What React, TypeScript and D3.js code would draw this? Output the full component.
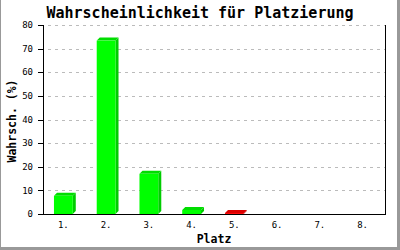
import React from "react";
import * as d3 from "d3";

const categories = ["1.", "2.", "3.", "4.", "5.", "6.", "7.", "8."];
const values = [7.7, 73.4, 17.0, 1.7, 0.4, 0, 0, 0];
const highlighted = ["5."];
const yTicks = [0, 10, 20, 30, 40, 50, 60, 70, 80];
const title = "Wahrscheinlichkeit für Platzierung";
const yTitle = "Wahrsch. (%)";
const xTitle = "Platz";

const W = 400, H = 250;
const left = 43, right = 385, top = 25, bottom = 214;
const mono = "'DejaVu Sans Mono', 'Liberation Mono', monospace";

export default function App() {
  const x = d3.scaleBand<string>().domain(categories).range([left, right]).paddingInner(0).paddingOuter(0);
  const y = d3.scaleLinear().domain([0, 80]).range([bottom, top]);
  const bw = x.bandwidth() * 0.44;
  const depth = 3;
  return (
    <svg width={W} height={H} style={{ position: "absolute", left: 0, top: 0, background: "#fff" }}>
      <rect x={0} y={0} width={W} height={H} fill="#fff" />
      {/* outer frame */}
      <line x1={0.5} y1={0} x2={0.5} y2={H} stroke="#999" strokeWidth={1} />
      <rect x={397} y={0} width={3} height={H} fill="#999" />
      <rect x={0} y={247} width={W} height={3} fill="#999" />
      {/* grid */}
      {yTicks.filter(t => t > 0).map(t => (
        <line key={"g" + t} x1={48} x2={right} y1={Math.round(y(t)) + 0.5} y2={Math.round(y(t)) + 0.5}
          stroke="#bbb" strokeWidth={1} strokeDasharray="3,4" />
      ))}
      {/* bars */}
      {categories.map((c, i) => {
        const v = values[i];
        if (v <= 0) return null;
        const red = highlighted.includes(c);
        const front = red ? "#ff0000" : "#00ff00";
        const dark = red ? "#cc0000" : "#00cc00";
        const topC = red ? "#dd0000" : "#00dd00";
        const x0 = (x(c) as number) + x.bandwidth() / 2 - bw / 2 - 1;
        const x1 = x0 + bw;
        const yt = y(v);
        const yb = y(0);
        return (
          <g key={c}>
            <polygon points={`${x1},${yb} ${x1 + depth},${yb - depth} ${x1 + depth},${yt - depth} ${x1},${yt}`} fill={dark} />
            <polygon points={`${x0},${yt} ${x0 + depth},${yt - depth} ${x1 + depth},${yt - depth} ${x1},${yt}`} fill={topC} />
            <rect x={x0} y={yt} width={bw} height={yb - yt} fill={front} />
          </g>
        );
      })}
      {/* axes */}
      <line x1={left + 0.5} x2={left + 0.5} y1={top} y2={bottom + 1} stroke="#000" strokeWidth={1} />
      <line x1={right + 0.5} x2={right + 0.5} y1={top} y2={bottom + 1} stroke="#000" strokeWidth={1} />
      <line x1={left} x2={right + 1} y1={bottom + 0.5} y2={bottom + 0.5} stroke="#000" strokeWidth={1} />
      {yTicks.map(t => (
        <g key={"t" + t}>
          <line x1={38} x2={left} y1={Math.round(y(t)) + 0.5} y2={Math.round(y(t)) + 0.5} stroke="#000" />
          <text x={33} y={y(t)} dy="0.35em" textAnchor="end" fontFamily={mono} fontSize={9} fill="#000">{t}</text>
        </g>
      ))}
      {categories.map(c => (
        <text key={"x" + c} x={(x(c) as number) + x.bandwidth() / 2 - 1} y={228} textAnchor="middle"
          fontFamily={mono} fontSize={9} fill="#000">{c}</text>
      ))}
      <text x={200} y={18} textAnchor="middle" fontFamily={mono} fontWeight="bold" fontSize={15} fill="#000">{title}</text>
      <text x={214} y={243} textAnchor="middle" fontFamily={mono} fontWeight="bold" fontSize={11.5} fill="#000">{xTitle}</text>
      <text transform={`translate(16,121) rotate(-90)`} textAnchor="middle" fontFamily={mono} fontWeight="bold" fontSize={11.5} fill="#000">{yTitle}</text>
    </svg>
  );
}
